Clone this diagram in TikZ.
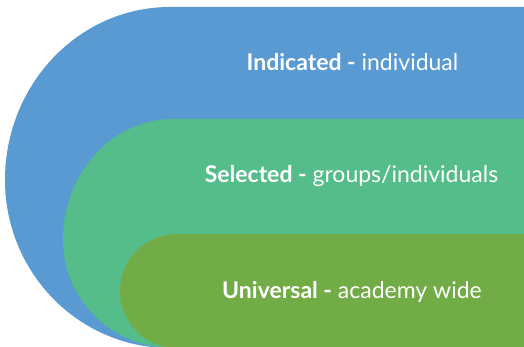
\documentclass[tikz,border=0pt]{standalone}
\usepackage{fontspec}
\setmainfont{Lato}
\usepackage{tikz}
\tikzstyle{canvas} = [x = 1pt, y = -1pt]
\definecolor{indicatedColor}{RGB}{89,154,211}
\definecolor{selectedColor}{RGB}{84,189,138}
\definecolor{universalColor}{RGB}{114,172,71}
\tikzstyle{bandText} = [text=white, anchor=base, inner sep=0pt, font=\fontsize{23}{27}\selectfont]
\newcommand{\rightEnd}{530}
\newcommand{\bottomEnd}{350}
% #1 colour, #2 top, #3 start of the flat top, #4 x radius, #5 upper y radius, #6 lower y radius
\newcommand{\band}[6]{\fill [#1] (\rightEnd, #2) -- (#3, #2) arc [start angle=-90, end angle=-180, x radius=#4, y radius=#5] arc [start angle=180, end angle=90, x radius=#4, y radius=#6] -- (\rightEnd, \bottomEnd) -- cycle;}

\begin{document}
\begin{tikzpicture}[canvas]
        \clip (0,0) rectangle (524,347);
        \fill [white] (0,0) rectangle (524,347);
        \band{indicatedColor}{7}{170}{165}{173}{168}
        \band{selectedColor}{119}{173}{110}{121}{108}
        \band{universalColor}{234}{177}{57}{57}{57}
        \node [bandText] (indicated) at (352.5,71) {\textbf{Indicated -} individual};
        \node [bandText] (selected) at (351.5,183) {\textbf{Selected -} groups/individuals};
        \node [bandText] (universal) at (352,298) {\textbf{Universal -} academy wide};
\end{tikzpicture}
\end{document}
